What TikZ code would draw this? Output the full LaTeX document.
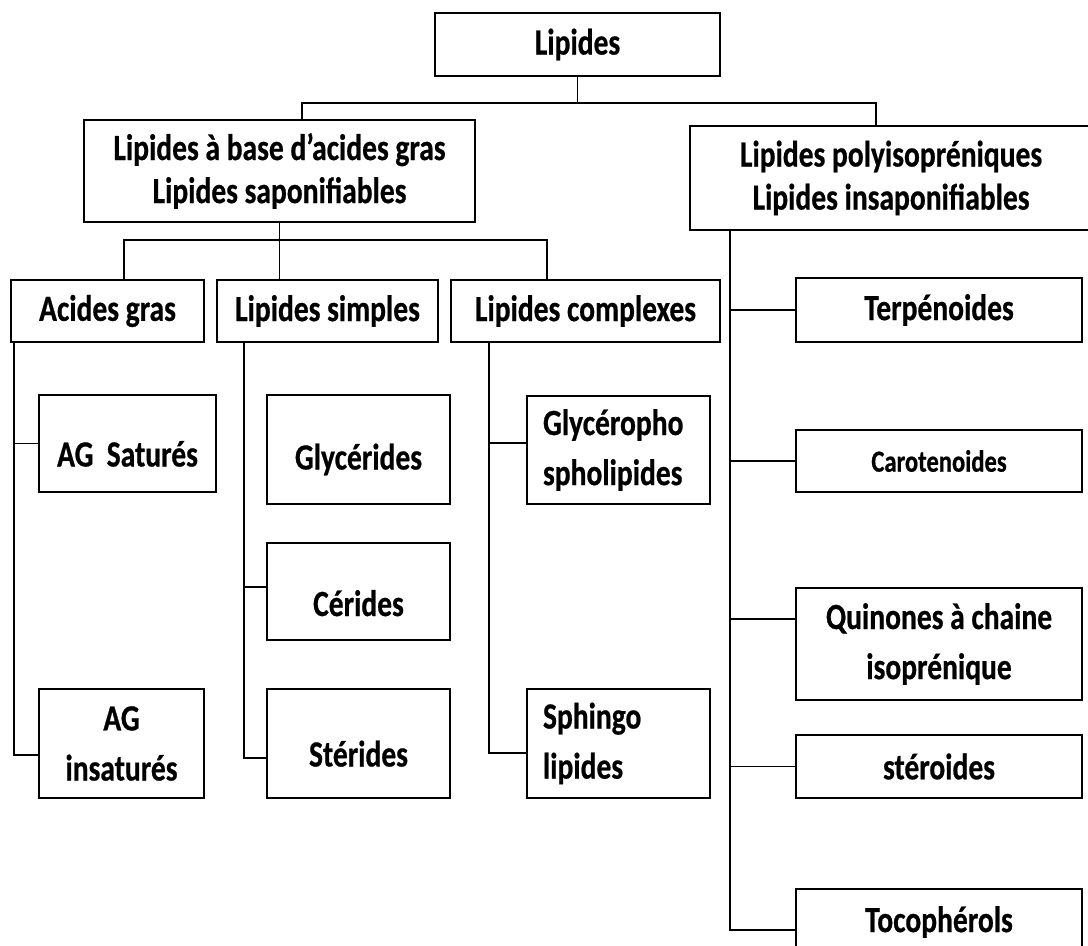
\documentclass[tikz,border=0pt]{standalone}
\usepackage{fontspec}
\setmainfont{Carlito}[FakeStretch=0.8,FakeBold=0.6]
\begin{document}
\begin{tikzpicture}[x=0.02cm,y=-0.02cm,
    box/.style={draw,line width=1.1pt,inner sep=0pt,align=center,
      font=\bfseries\fontsize{21}{28.5}\selectfont},
    head/.style={box,font=\bfseries\fontsize{21}{24.5}\selectfont},
    lowtext/.style={text height=0.92cm,text depth=0pt},
    leftbox/.style={box,align=left,text width=3.02cm},
    link/.style={line width=0.9pt}]
    \useasboundingbox (0,0) rectangle (1088,946);
    \clip (0,0) rectangle (1088,946);

    % top levels
    \node[box,minimum width=5.7cm,minimum height=1.26cm] (lip) at (577.5,44.5) {Lipides};
    \node[head,minimum width=7.82cm,minimum height=2.04cm] (sap) at (279.5,171)
        {Lipides à base d’acides gras\\Lipides saponifiables};
    \node[head,minimum width=8.04cm,minimum height=2.08cm] (insap) at (891,178)
        {Lipides polyisopréniques\\Lipides insaponifiables};

    \node[box,minimum width=3.86cm,minimum height=1.24cm] (ag) at (107.5,311) {Acides gras};
    \node[box,minimum width=4.42cm,minimum height=1.24cm] (simp) at (327.5,311) {Lipides simples};
    \node[box,minimum width=5.38cm,minimum height=1.24cm] (cplx) at (585.5,311) {Lipides complexes};

    % saponifiables
    \node[box,lowtext,minimum width=3.54cm,minimum height=1.94cm] (agsat) at (127.5,443.5) {AG\ \ Saturés};
    \node[box,minimum width=3.3cm,minimum height=2.18cm] (agins) at (121.5,743.5) {AG\\insaturés};
    \node[box,lowtext,text height=0.8cm,minimum width=3.66cm,minimum height=2.18cm] (glyc) at (358.5,449.5) {Glycérides};
    \node[box,lowtext,text height=0.98cm,minimum width=3.66cm,minimum height=1.94cm] (cer) at (358.5,591.5) {Cérides};
    \node[box,lowtext,minimum width=3.66cm,minimum height=2.18cm] (ster) at (358.5,743.5) {Stérides};
    \node[leftbox,minimum width=3.66cm,minimum height=2.16cm] (gpl) at (618.5,450) {Glycéropho\\spholipides};
    \node[leftbox,minimum width=3.66cm,minimum height=2.18cm] (sph) at (618.5,743.5) {Sphingo\\lipides};

    % insaponifiables
    \node[box,minimum width=5.72cm,minimum height=1.28cm] (terp) at (939,310) {Terpénoides};
    \node[box,minimum width=5.72cm,minimum height=1.24cm,
      font=\bfseries\fontsize{17.5}{20}\selectfont] (caro) at (939,461) {Carotenoides};
    \node[box,minimum width=5.72cm,minimum height=2.24cm] (quin) at (939,644) {Quinones à chaine\\isoprénique};
    \node[box,minimum width=5.72cm,minimum height=1.26cm] (sterd) at (939,766.5) {stéroides};
    \node[box,minimum width=5.72cm,minimum height=1.32cm] (toco) at (939,922) {Tocophérols};

    % connectors
    \coordinate (t1) at (302,103);
    \coordinate (t2) at (876,103);
    \draw[link] (lip.south) -- (lip.south |- t1);
    \draw[link] (t1 |- sap.north) -- (t1) -- (t2) -- (t2 |- insap.north);

    \coordinate (m1) at (124,240);
    \coordinate (m3) at (547,240);
    \draw[link] (sap.south) -- (sap.south |- simp.north);
    \draw[link] (m1 |- ag.north) -- (m1) -- (m3) -- (m3 |- cplx.north);

    \draw[link] ([xshift=0.08cm]ag.south west) |- (agsat.west);
    \draw[link] ([xshift=0.08cm]ag.south west) |- ([yshift=-0.23cm]agins.west);

    \draw[link] ([xshift=0.56cm]simp.south west) |- ([yshift=-0.29cm]ster.west);
    \draw[link] ([xshift=0.54cm,yshift=0.09cm]simp.south west |- cer.west) -- ([yshift=0.09cm]cer.west);

    \draw[link] ([xshift=0.78cm]cplx.south west) |- ([yshift=0.14cm]gpl.west);
    \draw[link] ([xshift=0.78cm]cplx.south west) |- ([yshift=-0.19cm]sph.west);

    \draw[link] ([xshift=0.82cm]insap.south west) |- ([yshift=-0.16cm]toco.west);
    \foreach \n/\s in {terp/0,caro/0,quin/0.5,sterd/0}
      \draw[link] ([xshift=0.82cm,yshift=\s cm]insap.south west |- \n.west) -- ([yshift=\s cm]\n.west);
\end{tikzpicture}
\end{document}
